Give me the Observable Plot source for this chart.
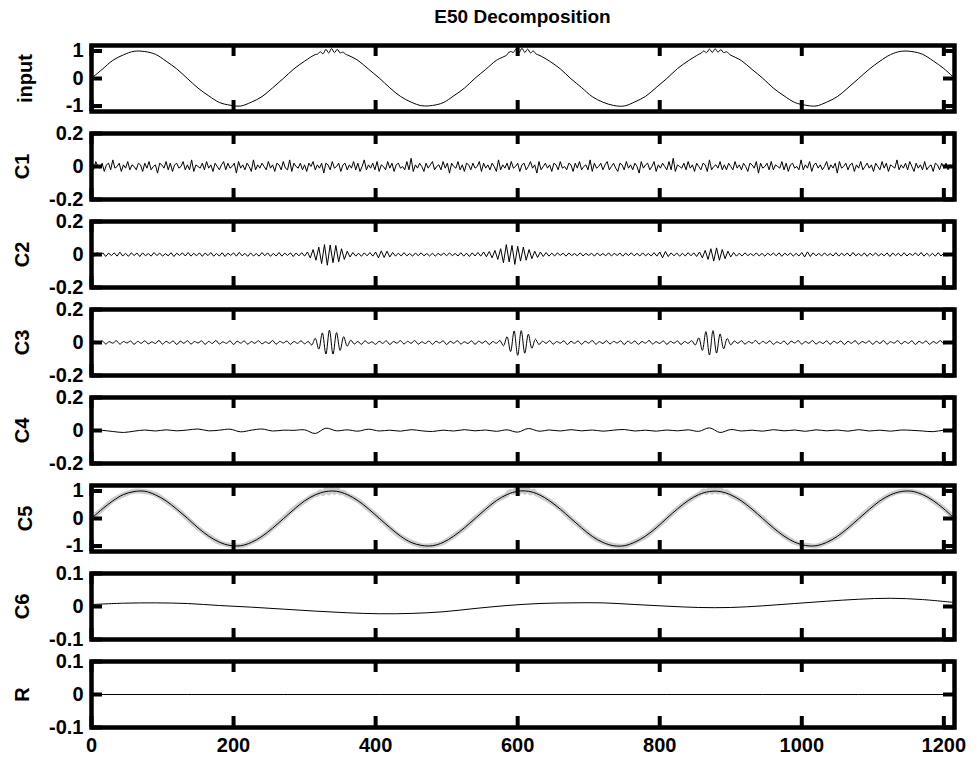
<!DOCTYPE html>
<html><head><meta charset="utf-8">
<script src="https://cdn.jsdelivr.net/npm/d3@7"></script>
<script src="https://cdn.jsdelivr.net/npm/@observablehq/plot@0.6"></script>
<style>
body{margin:0;background:#fff;}
#wrap{position:relative;width:978px;height:759px;font-family:"Liberation Sans",Arial,sans-serif;background:#fff;overflow:hidden;}
#title{position:absolute;top:5px;left:91px;width:863px;text-align:center;font-weight:bold;font-size:19px;line-height:24px;}
.pan{position:absolute;left:0;}
</style></head>
<body><div id="wrap"><div id="title">E50 Decomposition</div></div>
<script>
// ---- data ----
const xTicks = [0, 200, 400, 600, 800, 1000, 1200];
const xMax = 1215;
const panelNames = ["input", "C1", "C2", "C3", "C4", "C5", "C6", "R"];
const ticksBig = [-1, 0, 1];
const ticksMid = [-0.2, 0, 0.2];
const ticksSmall = [-0.1, 0, 0.1];

// step 15
const inputBase = [
 .01,.33,.66,.86,.99,.98,.88,.63,.35,.0,-.35,-.63,-.87,-.97,-1.0,-.86,-.66,-.34,
 .0,.35,.63,.87,.97,1.0,.86,.66,.34,.02,-.34,-.65,-.86,-.99,-.98,-.88,-.63,-.35,
 .01,.33,.66,.86,1.0,.98,.88,.63,.35,-.01,-.33,-.66,-.86,-.98,-1.0,-.85,-.65,-.33,
 .0,.36,.64,.88,.97,.99,.85,.65,.33,.01,-.35,-.63,-.87,-.97,-1.0,-.86,-.66,-.34,
 .0,.34,.63,.87,.99,.98,.88,.64,.36,.01];
const inputBurst1 = [[318,.88],[322,.97],[326,.90],[330,1.06],[334,.93],[338,1.09],[342,.94],[346,1.06],[350,.93],[354,.96],[358,.88]];
const inputBurst2 = [[586,.91],[590,.98],[594,.95],[598,1.08],[602,.94],[606,1.10],[610,.95],[614,1.07],[618,.93],[622,1.0],[626,.89],[630,.85]];
const inputBurst3 = [[858,.92],[862,1.0],[866,.94],[870,1.07],[874,.95],[878,1.08],[882,.96],[886,1.05],[890,.94],[894,.97],[898,.89]];

// step 3
const c1 = [
 .01,-.02,.03,.0,-.01,.02,-.03,.01,.02,-.02,.04,-.01,.0,.02,-.03,.01,-.01,.03,-.02,.01,
 .0,-.02,.02,.01,-.03,.02,-.01,.03,-.02,.0,.01,-.04,.02,.01,-.01,.03,-.02,.02,-.03,.01,
 .02,-.01,.0,.03,-.02,.01,-.02,.04,-.03,.01,.0,-.01,.02,-.02,.03,-.01,.01,-.03,.02,.0,
 -.02,.01,.03,-.02,.02,-.01,.0,.02,-.04,.03,-.01,.01,-.02,.02,.0,-.03,.04,-.02,.01,-.01,
 .02,.0,-.02,.03,-.01,.01,-.03,.02,.01,-.02,.03,-.01,-.02,.04,-.03,.02,.0,-.01,.02,-.02,
 .01,-.03,.02,.0,.03,-.02,.01,-.01,.02,-.04,.02,.01,-.02,.03,-.01,.0,.02,-.03,.01,.02,
 -.02,.01,-.01,.03,-.02,.02,-.03,.0,.04,-.02,.01,-.01,.02,-.02,.03,-.03,.01,.0,-.02,.03,
 -.01,.02,-.03,.01,.02,-.01,.0,-.02,.03,-.02,.05,-.03,.01,-.01,.02,.0,-.03,.02,-.01,.01,
 .03,-.02,.0,.01,-.02,.03,-.01,.02,-.04,.02,.0,-.01,.03,-.02,.01,-.03,.02,.01,-.02,.02,
 -.01,.0,.03,-.03,.02,-.01,.01,-.02,.02,.0,-.03,.04,-.02,.01,-.01,.02,-.02,.03,-.01,.0,
 .02,-.03,.01,.02,-.02,.0,.03,-.01,.01,-.04,.03,-.02,.0,.02,-.01,.01,-.03,.02,.01,-.02,
 .03,-.01,.0,-.02,.02,.01,-.03,.02,-.01,.03,-.02,.0,.01,-.02,.04,-.03,.02,-.01,.0,.02,
 -.02,.01,.03,-.02,.0,.02,-.01,-.03,.02,.01,-.02,.03,-.01,.01,-.02,.02,.0,-.04,.03,-.01,
 .01,.02,-.02,.0,.03,-.03,.01,-.01,.02,.0,-.02,.03,-.02,.05,-.03,.01,.0,-.01,.02,-.02,
 .03,-.01,.01,-.03,.02,.0,-.02,.02,.01,-.03,.04,-.02,.0,.01,-.01,.03,-.02,.01,-.02,.02,
 .0,-.02,.03,-.01,.01,-.02,.02,.0,-.03,.02,.01,-.01,.03,-.04,.02,-.01,.0,.02,-.02,.03,
 -.02,.01,.0,-.01,.03,-.02,.02,-.03,.01,.02,-.01,.0,-.02,.04,-.02,.01,-.01,.03,-.03,.01,
 .02,-.01,.01,-.02,.0,.03,-.02,.01,-.01,.02,-.04,.03,-.01,.0,.02,-.02,.01,.02,-.03,.01,
 -.01,.03,-.02,.0,.02,-.01,.01,-.03,.02,.0,-.02,.03,-.01,.02,-.03,.01,.0,-.01,.04,-.02,
 .01,-.01,.02,-.02,.03,.0,-.03,.02,-.01,.01,-.02,.03,-.02,.0,.01,-.03,.02,.01,-.02,.02,
 -.01,.02,-.02,.01,.0,.0];

// step 4
const c2 = [
 .005,-.01,.012,-.008,.01,-.012,.008,-.006,.01,-.01,.014,-.009,.007,-.011,.01,-.006,.009,-.012,.01,-.008,
 .006,-.01,.012,-.007,.009,-.01,.005,-.008,.011,-.012,.008,-.006,.01,-.009,.012,-.01,.007,-.008,.01,-.011,
 .009,-.007,.012,-.01,.006,-.009,.011,-.012,.008,-.006,.01,-.01,.013,-.008,.007,-.011,.01,-.009,.006,-.01,
 .012,-.008,.01,-.011,.007,-.009,.012,-.01,.008,-.006,.01,-.012,.009,-.008,.011,-.01,.015,-.02,.03,-.035,
 .045,-.055,.06,-.065,.058,-.05,.055,-.045,.035,-.03,.02,-.015,.012,-.01,.008,-.011,.01,-.008,.012,-.01,
 .015,-.02,.022,-.018,.02,-.015,.012,-.01,.008,-.009,.011,-.008,.006,-.01,.009,-.007,.01,-.008,.006,-.009,
 .008,-.01,.007,-.006,.009,-.008,.01,-.007,.006,-.009,.011,-.01,.008,-.012,.01,-.009,.012,-.01,.015,-.013,
 .018,-.02,.025,-.03,.035,-.05,.06,-.045,.055,-.06,.05,-.04,.045,-.035,.03,-.025,.02,-.018,.015,-.012,
 .012,-.01,.008,-.009,.01,-.006,.008,-.01,.009,-.007,.006,-.008,.01,-.009,.007,-.006,.008,-.01,.009,-.007,
 .006,-.008,.01,-.009,.007,-.006,.009,-.01,.008,-.006,.01,-.008,.007,-.009,.01,-.008,.006,-.009,.011,-.01,
 .015,-.02,.018,-.012,.01,-.008,.009,-.01,.007,-.009,.011,-.008,.01,-.012,.015,-.02,.025,-.03,.035,-.04,
 .04,-.035,.03,-.025,.02,-.015,.012,-.01,.008,-.009,.01,-.007,.006,-.008,.01,-.009,.007,-.01,.008,-.006,
 .009,-.008,.01,-.011,.008,-.006,.009,-.01,.007,-.009,.012,-.015,.016,-.012,.01,-.008,.007,-.009,.01,-.008,
 .006,-.009,.011,-.01,.008,-.007,.009,-.01,.012,-.008,.006,-.009,.01,-.011,.008,-.007,.01,-.009,.006,-.008,
 .01,-.012,.009,-.007,.008,-.01,.011,-.009,.007,-.006,.01,-.008,.012,-.01,.008,-.009,.007,-.01,.011,-.009,
 .008,-.01,.006,-.004];

// step 5
const c3 = [
 0,.008,-.006,.01,-.009,.005,-.004,.011,-.01,.006,-.003,.009,-.011,.007,-.005,.01,-.008,.004,-.006,.012,
 -.01,.007,-.004,.009,-.012,.008,-.005,.011,-.009,.006,-.003,.01,-.011,.007,-.006,.012,-.009,.004,-.005,.01,
 -.012,.008,-.004,.009,-.01,.006,-.005,.011,-.008,.004,-.006,.012,-.01,.007,-.003,.009,-.011,.006,-.005,.01,
 -.008,.006,-.015,.025,-.04,.058,-.07,.075,-.07,.06,-.048,.035,-.022,.014,-.009,.006,-.011,.01,-.005,.004,
 -.011,.008,-.005,.01,-.012,.006,-.004,.011,-.009,.007,-.005,.012,-.01,.004,-.006,.009,-.011,.008,-.003,.01,
 -.012,.007,-.005,.011,-.009,.004,-.006,.01,-.011,.008,-.004,.009,-.012,.006,-.005,.012,-.02,.035,-.055,.07,
 -.078,.072,-.065,.05,-.035,.02,-.012,.008,-.005,.011,-.01,.006,-.004,.01,-.012,.007,-.005,.009,-.011,.008,
 -.004,.012,-.01,.005,-.006,.011,-.009,.007,-.003,.01,-.012,.008,-.005,.009,-.011,.006,-.004,.012,-.009,.005,
 -.006,.01,-.011,.007,-.004,.009,-.012,.006,-.005,.011,-.015,.028,-.048,.066,-.076,.072,-.064,.052,-.038,.024,
 -.014,.009,-.005,.011,-.01,.006,-.004,.012,-.009,.007,-.005,.01,-.011,.004,-.006,.009,-.012,.008,-.003,.011,
 -.01,.006,-.005,.012,-.009,.004,-.006,.01,-.011,.008,-.004,.009,-.012,.007,-.005,.011,-.01,.006,-.003,.009,
 -.011,.008,-.006,.012,-.01,.005,-.004,.011,-.009,.006,-.005,.01,-.012,.007,-.004,.009,-.011,.006,-.005,.012,
 -.008,.005,-.003,0];

// step 15
const c4 = [
 .002,.001,-.006,-.012,-.004,.003,-.003,.004,-.002,.003,.009,-.002,.002,.008,-.008,.002,.009,-.003,.002,.001,
 .004,-.018,.014,-.002,.004,-.004,.008,-.003,.002,-.004,.005,-.002,-.006,.002,-.003,.005,-.002,.003,-.005,.004,
 -.01,.012,-.004,.003,-.003,.005,-.002,.003,-.004,.002,.006,-.003,.002,-.004,.003,-.002,.004,-.005,.016,-.012,
 .006,-.003,.002,-.004,.005,-.002,.003,-.005,.004,-.002,.003,-.004,.005,-.003,.002,-.004,.003,.001,-.003,-.007,
 .002,.001];

// step 15
const c5 = [
 0,.34,.64,.87,.98,.99,.86,.64,.34,.01,-.34,-.64,-.86,-.98,-.99,-.87,-.65,-.35,
 -.01,.33,.64,.86,.98,.99,.87,.65,.35,.01,-.33,-.64,-.87,-.98,-.99,-.87,-.64,-.34,
 0,.34,.65,.87,.99,.99,.87,.64,.34,0,-.34,-.65,-.87,-.99,-.99,-.86,-.64,-.34,
 .01,.35,.65,.87,.98,.98,.86,.64,.34,0,-.34,-.64,-.86,-.98,-.99,-.87,-.65,-.35,
 -.01,.33,.64,.86,.98,.99,.87,.65,.35,.0];

// step 45
const c6 = [.006,.010,.011,.009,.003,-.002,-.008,-.014,-.019,-.022,-.021,-.016,-.006,.003,
 .009,.011,.011,.006,.001,-.003,-.003,.002,.009,.016,.022,.025,.021,.012];

// step 135
const rRes = [0,0,0,0,0,0,0,0,0,0];

// ---- build ----
const toXY = (arr, step) => arr.map((y, i) => ({x: i * step, y}));
const bursts = [inputBurst1, inputBurst2, inputBurst3];
const inputData = toXY(inputBase, 15)
  .filter(d => !bursts.some(b => d.x >= b[0][0] && d.x <= b[b.length - 1][0]))
  .concat(bursts.flat().map(([x, y]) => ({x, y})))
  .sort((a, b) => a.x - b.x);

const panels = [
  {name: "input", data: inputData, dom: [-1.2, 1.2], ticks: ticksBig, curve: "catmull-rom", ldx: -66},
  {name: "C1", data: toXY(c1, 3), dom: [-0.2, 0.2], ticks: ticksMid, curve: "linear", ldx: -69},
  {name: "C2", data: toXY(c2, 4), dom: [-0.2, 0.2], ticks: ticksMid, curve: "linear", ldx: -69},
  {name: "C3", data: toXY(c3, 5), dom: [-0.2, 0.2], ticks: ticksMid, curve: "catmull-rom", ldx: -69},
  {name: "C4", data: toXY(c4, 15), dom: [-0.2, 0.2], ticks: ticksMid, curve: "catmull-rom", ldx: -69},
  {name: "C5", data: toXY(c5, 15), dom: [-1.2, 1.2], ticks: ticksBig, curve: "catmull-rom", ldx: -66, gray: inputData},
  {name: "C6", data: toXY(c6, 45), dom: [-0.1, 0.1], ticks: ticksSmall, curve: "catmull-rom", ldx: -69},
  {name: "R", data: toXY(rRes, 135), dom: [-0.1, 0.1], ticks: ticksSmall, curve: "linear", ldx: -69}
];

const W = 978, mL = 91, mR = 24, innerH = 66, mT = 11, mB = 11;
const innerW = W - mL - mR;
const tickLen = 11;
const wrap = document.getElementById("wrap");

panels.forEach((p, i) => {
  const last = i === panels.length - 1;
  const marks = [];
  if (p.gray) marks.push(Plot.line(p.gray, {x: "x", y: "y", stroke: "#cdcdcd", strokeWidth: 5, curve: "catmull-rom"}));
  marks.push(
    Plot.line(p.data, {x: "x", y: "y", stroke: "black", strokeWidth: 1, curve: p.curve}),
    Plot.frame({stroke: "black", strokeWidth: 4.5}),
    Plot.tickX(xTicks, {x: d => d, insetBottom: innerH - tickLen, strokeWidth: 4}),
    Plot.tickX(xTicks, {x: d => d, insetTop: innerH - tickLen, strokeWidth: 4}),
    Plot.tickY(p.ticks, {y: d => d, insetRight: innerW - tickLen, strokeWidth: 4}),
    Plot.tickY(p.ticks, {y: d => d, insetLeft: innerW - tickLen, strokeWidth: 4}),
    Plot.axisY(p.ticks, {tickSize: 0, tickPadding: 8, tickFormat: d => String(d), label: null}),
    Plot.text([p.name], {frameAnchor: "left", dx: p.ldx, rotate: -90, textAnchor: "middle", fontSize: 20, fontWeight: "bold"})
  );
  if (last) marks.push(Plot.axisX(xTicks, {tickSize: 0, tickPadding: 10, tickFormat: d => String(d), label: null}));
  const chart = Plot.plot({
    width: W, height: innerH + mT + mB + (last ? 36 : 0),
    marginLeft: mL, marginRight: mR, marginTop: mT, marginBottom: mB + (last ? 36 : 0),
    x: {domain: [0, xMax], ...(last ? {} : {axis: null})},
    y: {domain: p.dom},
    style: {fontFamily: "'Liberation Sans', Arial, sans-serif", fontSize: "20px", fontWeight: "bold", background: "transparent", overflow: "visible", color: "black"},
    marks
  });
  const div = document.createElement("div");
  div.className = "pan";
  div.style.top = (34 + 88 * i) + "px";
  div.appendChild(chart);
  wrap.appendChild(div);
});
</script></body></html>
